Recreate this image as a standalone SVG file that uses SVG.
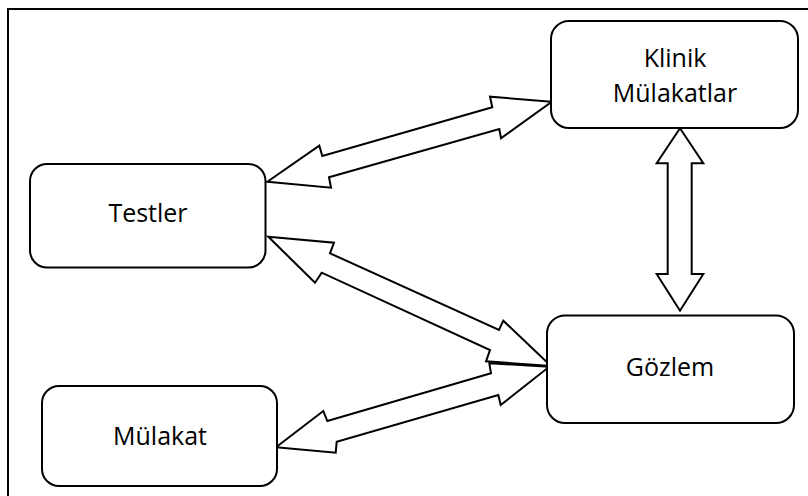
<svg xmlns="http://www.w3.org/2000/svg" width="808" height="496" viewBox="0 0 808 496">
<style>
.box{fill:#fff;stroke:#000;stroke-width:2}
.arr{fill:#fff;stroke:#000;stroke-width:2;stroke-linejoin:miter}
.lbl{font-family:"Open Sans","Liberation Sans",sans-serif;font-size:25px;fill:#000;text-anchor:middle}
</style>
<rect x="0" y="0" width="808" height="496" fill="#fff"/>
<path d="M8,500 V9 H812" fill="none" stroke="#000" stroke-width="2"/>
<g id="connectors">
<polygon class="arr" points="267.3,181.7 319.3,145.7 322.3,156 492.3,107.3 490,96.7 551.7,101.7 501,138.3 499.3,129 329,177.3 331,187.7"/>
<polygon class="arr" points="268.3,236.7 334,242.7 330,253.3 499,330 503.3,320.7 551,366 486,361.3 490,350 321.7,272.7 315,282.7"/>
<polygon class="arr" points="276,447.3 323.3,411 327.3,421 491,373.3 489.3,363.3 549.3,366.7 500.7,405 498.3,395 336.7,441.7 335.7,452.7"/>
<polygon class="arr" points="680,128.3 703.3,163.3 691.7,163.3 691.7,274 703.3,274 680,310.7 656.7,274 667.7,274 667.7,163.3 656.7,163.3"/>
</g>
<g id="klinik">
<rect class="box" x="551" y="21" width="247" height="107" rx="18"/>
<text class="lbl" x="675" y="66.5">Klinik</text>
<text class="lbl" x="675" y="101.5">Mülakatlar</text>
</g>
<g id="testler">
<rect class="box" x="30" y="164" width="235.5" height="103.5" rx="17"/>
<text class="lbl" x="148" y="222">Testler</text>
</g>
<g id="gozlem">
<rect class="box" x="547" y="315.5" width="247" height="107.5" rx="18"/>
<text class="lbl" x="670" y="376">Gözlem</text>
</g>
<g id="mulakat">
<rect class="box" x="42" y="386" width="235" height="100" rx="17"/>
<text class="lbl" x="160" y="445">Mülakat</text>
</g>
</svg>
